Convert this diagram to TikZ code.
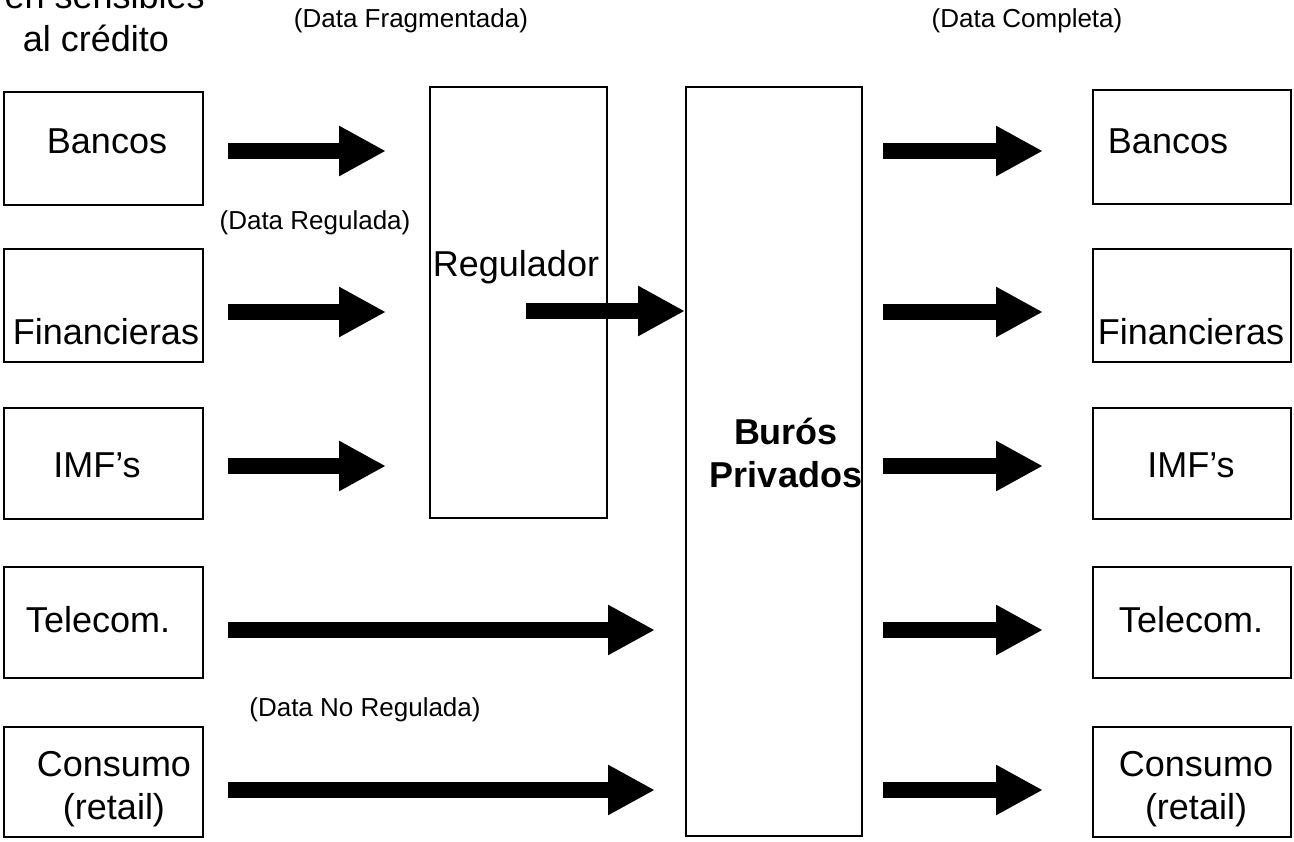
\documentclass[tikz,border=0pt]{standalone}
\usepackage{fontspec}
\setmainfont{Liberation Sans}
\usetikzlibrary{arrows.meta}
\begin{document}
\begin{tikzpicture}[x=1pt,y=-1pt,
  box/.style={draw=black,line width=2pt,inner sep=0pt,fill=white},
  big/.style={font=\fontsize{36}{43}\selectfont,inner sep=0pt,anchor=base},
  bigml/.style={font=\fontsize{36}{43}\selectfont,inner sep=0pt,align=center,anchor=center},
  small/.style={font=\fontsize{26}{31}\selectfont,inner sep=0pt,anchor=base},
  fat/.style={line width=16pt,-{Triangle[width=47pt,length=47pt]}}]
\useasboundingbox (0,0) rectangle (1294,842);

% left boxes
\node[box,minimum width=199pt,minimum height=113pt] (bL) at (103.5,148.5) {};
\node[box,minimum width=199pt,minimum height=113pt] (fL) at (103.5,305.5) {};
\node[box,minimum width=199pt,minimum height=111pt] (iL) at (103.5,463.5) {};
\node[box,minimum width=199pt,minimum height=111pt] (tL) at (103.5,622.5) {};
\node[box,minimum width=199pt,minimum height=110pt] (cL) at (103.5,782) {};

% right boxes
\node[box,minimum width=198pt,minimum height=114pt] (bR) at (1192,147) {};
\node[box,minimum width=198pt,minimum height=113pt] (fR) at (1192,305.5) {};
\node[box,minimum width=198pt,minimum height=111pt] (iR) at (1192,463.5) {};
\node[box,minimum width=198pt,minimum height=111pt] (tR) at (1192,622.5) {};
\node[box,minimum width=198pt,minimum height=110pt] (cR) at (1192,782) {};

% middle boxes
\node[box,minimum width=177pt,minimum height=431pt] (reg) at (518.5,302.5) {};
\node[box,minimum width=176pt,minimum height=749pt] (buro) at (774,461.5) {};

% box texts
\node[big] (tbL) at (107,154) {Bancos};
\node[big] (tfL) at (106,345) {Financieras};
\node[big] (tiL) at (97,477) {IMF’s};
\node[big] (ttL) at (98,632) {Telecom.};
\node[bigml] (tcL) at (114,789) {Consumo\\(retail)};

\node[big] (tbR) at (1168,154) {Bancos};
\node[big] (tfR) at (1191,345) {Financieras};
\node[big] (tiR) at (1191,477) {IMF’s};
\node[big] (ttR) at (1191,632) {Telecom.};
\node[bigml] (tcR) at (1196,789) {Consumo\\(retail)};

\node[big] (treg) at (516,277) {Regulador};
\node[bigml,font=\fontsize{36}{43}\selectfont\bfseries] (tburo) at (786,453) {Burós\\Privados};

% top / free labels
\node[big,anchor=base east] (tsens) at (205,9) {en sensibles};
\node[big] (tcred) at (96,52) {al crédito};
\node[small] (lfrag) at (411,28) {(Data Fragmentada)};
\node[small] (lcomp) at (1027,28) {(Data Completa)};
\node[small] (lreg) at (315,230) {(Data Regulada)};
\node[small] (lnoreg) at (365,716) {(Data No Regulada)};

% arrow end points
\coordinate (a1s) at (228,151); \coordinate (a1e) at (386,151);
\coordinate (a2s) at (228,312); \coordinate (a2e) at (386,312);
\coordinate (a3s) at (228,466); \coordinate (a3e) at (386,466);
\coordinate (a4s) at (228,630); \coordinate (a4e) at (655,630);
\coordinate (a5s) at (228,790); \coordinate (a5e) at (655,790);
\coordinate (ars) at (526,311); \coordinate (are) at (685,311);
\foreach \i/\y in {1/151,2/312,3/466,4/630,5/790}{
  \coordinate (r\i s) at (883,\y); \coordinate (r\i e) at (1043,\y);
}

\draw[fat] (a1s) -- (a1e);
\draw[fat] (a2s) -- (a2e);
\draw[fat] (a3s) -- (a3e);
\draw[fat] (a4s) -- (a4e);
\draw[fat] (a5s) -- (a5e);
\draw[fat] (ars) -- (are);
\foreach \i in {1,...,5}{ \draw[fat] (r\i s) -- (r\i e); }
\end{tikzpicture}
\end{document}
